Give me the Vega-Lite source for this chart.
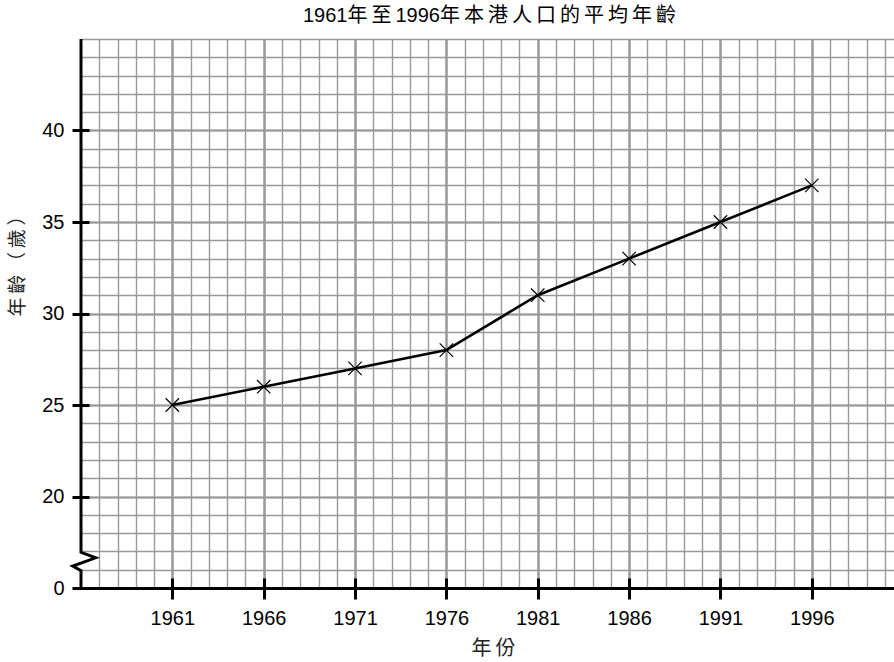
{
  "$schema": "https://vega.github.io/schema/vega-lite/v6.json",
  "width": 813,
  "height": 549,
  "autosize": {"type": "none"},
  "padding": {"left": 81, "top": 39, "right": 0, "bottom": 74},
  "background": "white",
  "config": {"view": {"stroke": null}},
  "title": {
    "text": "1961年\u2009至\u20091996年\u2009本\u2009港\u2009人\u2009口\u2009的\u2009平\u2009均\u2009年\u2009齡",
    "anchor": "middle",
    "frame": "group",
    "font": "Liberation Sans, Noto Sans CJK TC",
    "fontSize": 20,
    "fontWeight": "normal",
    "color": "#000000",
    "baseline": "alphabetic",
    "offset": 13,
    "dx": 2,
    "dy": 22
  },
  "datasets": {
    "ages": [
      {"year": 1961, "age": 25},
      {"year": 1966, "age": 26},
      {"year": 1971, "age": 27},
      {"year": 1976, "age": 28},
      {"year": 1981, "age": 31},
      {"year": 1986, "age": 33},
      {"year": 1991, "age": 35},
      {"year": 1996, "age": 37}
    ],
    "axisbreak": [
      {"k": 1, "x": 1956, "y": 45},
      {"k": 2, "x": 1956, "y": 16.95},
      {"k": 3, "x": 1956.8, "y": 16.65},
      {"k": 4, "x": 1955.55, "y": 16.2},
      {"k": 5, "x": 1956, "y": 15.95},
      {"k": 6, "x": 1956, "y": 15}
    ]
  },
  "resolve": {"axis": {"x": "independent", "y": "independent"}},
  "layer": [
    {
      "data": {"name": "ages"},
      "mark": {"type": "point", "opacity": 0},
      "encoding": {
        "x": {
          "field": "year", "type": "quantitative",
          "scale": {"domain": [1956, 2000.5], "nice": false, "zero": false},
          "axis": {
            "orient": "bottom",
            "values": [1957,1958,1959,1960,1961,1962,1963,1964,1965,1966,1967,1968,1969,1970,1971,1972,1973,1974,1975,1976,1977,1978,1979,1980,1981,1982,1983,1984,1985,1986,1987,1988,1989,1990,1991,1992,1993,1994,1995,1996,1997,1998,1999,2000],
            "grid": true, "gridColor": "#999999", "gridWidth": 1.4, "gridOpacity": 1,
            "domain": false, "ticks": false, "labels": false, "title": null
          }
        },
        "y": {
          "field": "age", "type": "quantitative",
          "scale": {"domain": [15, 45], "nice": false, "zero": false},
          "axis": {
            "orient": "right",
            "values": [16,17,18,19,20,21,22,23,24,25,26,27,28,29,30,31,32,33,34,35,36,37,38,39,40,41,42,43,44,45],
            "grid": true, "gridColor": "#999999", "gridWidth": 1.4, "gridOpacity": 1,
            "domain": false, "ticks": false, "labels": false, "title": null
          }
        }
      }
    },
    {
      "data": {"name": "ages"},
      "mark": {"type": "line", "color": "#000000", "strokeWidth": 2.6},
      "encoding": {
        "x": {
          "field": "year", "type": "quantitative",
          "scale": {"domain": [1956, 2000.5], "nice": false, "zero": false},
          "axis": {
            "orient": "bottom",
            "values": [1961,1966,1971,1976,1981,1986,1991,1996],
            "grid": true, "gridColor": "#999999", "gridWidth": 2.4, "gridOpacity": 1,
            "domain": true, "domainColor": "#000000", "domainWidth": 3,
            "ticks": false, "labels": false, "title": null
          }
        },
        "y": {
          "field": "age", "type": "quantitative",
          "scale": {"domain": [15, 45], "nice": false, "zero": false},
          "axis": {
            "orient": "left",
            "values": [20,25,30,35,40],
            "grid": true, "gridColor": "#999999", "gridWidth": 2.2, "gridOpacity": 1,
            "domain": false, "ticks": false, "labels": false, "title": null
          }
        }
      }
    },
    {
      "data": {"name": "ages"},
      "mark": {"type": "point", "shape": "M-1,-1L1,1M1,-1L-1,1", "filled": false, "stroke": "#000000", "strokeWidth": 1.2, "size": 180, "opacity": 1},
      "encoding": {
        "x": {
          "field": "year", "type": "quantitative",
          "scale": {"domain": [1956, 2000.5], "nice": false, "zero": false},
          "axis": {
            "orient": "bottom",
            "offset": -10,
            "values": [1961,1966,1971,1976,1981,1986,1991,1996],
            "grid": false, "domain": false,
            "ticks": true, "tickSize": 21, "tickWidth": 3, "tickColor": "#000000",
            "labels": true, "labelFont": "Liberation Sans", "labelFontSize": 20, "labelColor": "#000000", "labelPadding": 9,
            "format": "d",
            "title": "年\u2009份",
            "titleFont": "Noto Sans CJK TC", "titleFontSize": 20, "titleFontWeight": "normal", "titleColor": "#222222",
            "titleX": 412, "titleY": 70, "titleBaseline": "middle", "titleAlign": "center", "titleAnchor": null
          }
        },
        "y": {
          "field": "age", "type": "quantitative",
          "scale": {"domain": [15, 45], "nice": false, "zero": false},
          "axis": {
            "orient": "left",
            "offset": -8,
            "values": [15,20,25,30,35,40],
            "labelExpr": "datum.value == 15 ? '0' : datum.label",
            "grid": false, "domain": false,
            "ticks": true, "tickSize": 17, "tickWidth": 3, "tickColor": "#000000",
            "labels": true, "labelFont": "Liberation Sans", "labelFontSize": 20, "labelColor": "#000000", "labelPadding": 8,
            "title": "年\u2009齡\u2009（\u2009歲\u2009）",
            "titleFont": "Noto Sans CJK TC", "titleFontSize": 19, "titleFontWeight": "normal", "titleColor": "#222222",
            "titleX": -72, "titleY": 222, "titleAngle": -90, "titleBaseline": "middle", "titleAlign": "center", "titleAnchor": null
          }
        }
      }
    },
    {
      "data": {"name": "axisbreak"},
      "mark": {"type": "line", "color": "#000000", "strokeWidth": 3, "strokeJoin": "miter"},
      "encoding": {
        "x": {"field": "x", "type": "quantitative", "scale": {"domain": [1956, 2000.5], "nice": false, "zero": false}, "axis": null},
        "y": {"field": "y", "type": "quantitative", "scale": {"domain": [15, 45], "nice": false, "zero": false}, "axis": null},
        "order": {"field": "k", "type": "quantitative"}
      }
    }
  ]
}
